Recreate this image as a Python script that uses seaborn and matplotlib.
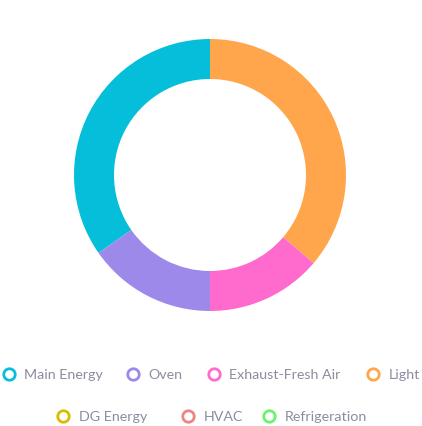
import matplotlib
matplotlib.use("Agg")
from matplotlib import pyplot as plt
import seaborn as sns

# data (share of total, counter-clockwise from 12 o'clock)
categories = ['Main Energy', 'Oven', 'Exhaust-Fresh Air', 'Light',
              'DG Energy', 'HVAC', 'Refrigeration']
values = [34.7, 15.3, 13.8, 36.2, 0, 0, 0]
colors = ['#05BED9', '#9D89E9', '#FF6ACD', '#FFA64C',
          '#D9BC00', '#F08383', '#66F56B']

# legend layout in pixels (marker x, text x, y)
legend_pos = [(9, 24, 375), (133, 148, 375), (214, 229, 375), (373, 389, 375),
              (63, 79, 417), (188, 204, 417), (269, 285, 417)]

W, H = 422, 427

sns.set_theme(style="white")
plt.rcParams['font.family'] = ['Lato', 'DejaVu Sans']

fig = plt.figure(figsize=(W / 100, H / 100), dpi=100)
fig.patch.set_facecolor('white')

# donut
cx, cy, r = 210, 176, 136
ax = fig.add_axes([(cx - r) / W, 1 - (cy + r) / H, 2 * r / W, 2 * r / H])
ax.pie(values, colors=colors, startangle=90, counterclock=True, radius=1,
       wedgeprops=dict(width=40 / 136, linewidth=0, antialiased=True))
ax.set_xlim(-1, 1)
ax.set_ylim(-1, 1)
ax.set_aspect('equal')
ax.axis('off')

# legend drawn on an overlay axes in pixel coordinates
lax = fig.add_axes([0, 0, 1, 1])
lax.set_xlim(0, W)
lax.set_ylim(H, 0)
lax.axis('off')
for name, col, (mx, tx, y) in zip(categories, colors, legend_pos):
    lax.scatter([mx], [y], s=68, facecolors='white', edgecolors=col, linewidths=2.0)
    lax.text(tx, y, name, fontsize=10.3, color='#8D8CA0', va='center', ha='left')

fig.savefig('out.png', dpi=100)
